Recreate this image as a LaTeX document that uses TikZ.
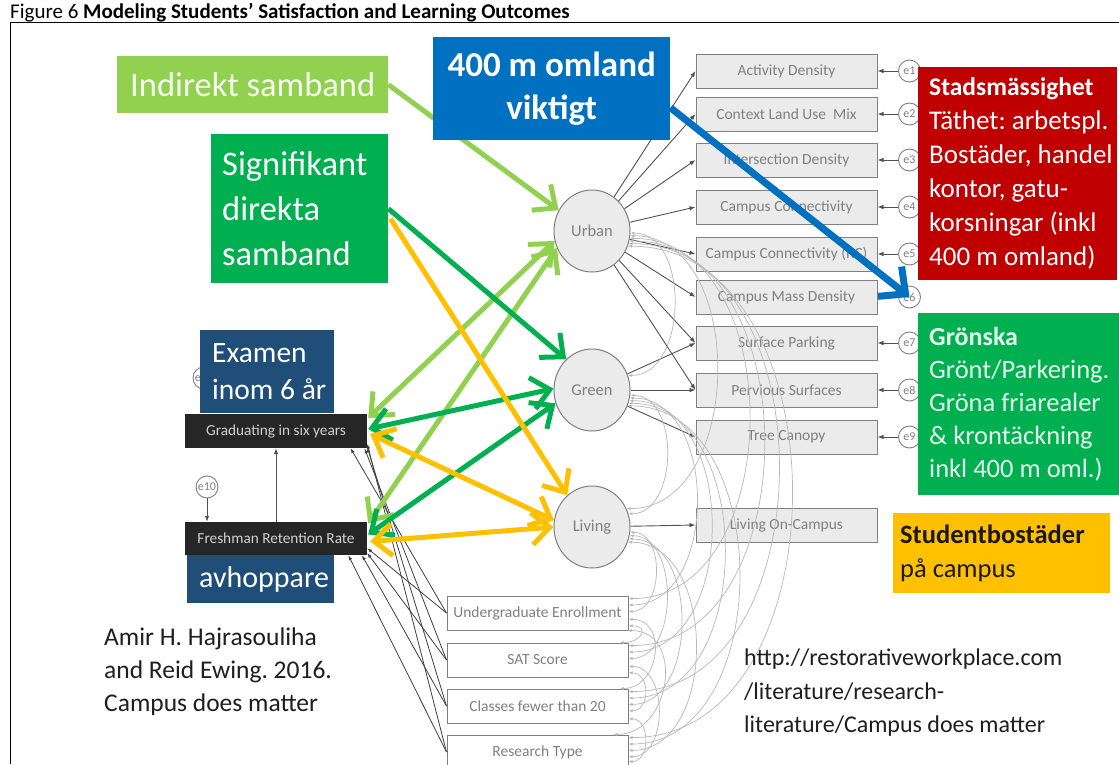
\documentclass[tikz,border=0pt]{standalone}
\usepackage{fontspec}
\setmainfont{Carlito}
\usetikzlibrary{arrows.meta,calc,shapes.geometric}

\definecolor{lgreen}{HTML}{92D050}
\definecolor{dgreen}{HTML}{00B050}
\definecolor{ayellow}{HTML}{FFC000}
\definecolor{ablue}{HTML}{0070C0}
\definecolor{navy}{HTML}{1F4E79}
\definecolor{ared}{HTML}{C00000}
\definecolor{boxfill}{HTML}{EBEBEB}
\definecolor{boxline}{HTML}{7F7F7F}
\definecolor{nodetext}{HTML}{808080}
\definecolor{darkbox}{HTML}{262626}

\tikzset{
  obs/.style={draw=boxline, fill=boxfill, line width=1pt, minimum width=181pt,
    minimum height=34pt, inner sep=0pt, text=nodetext, font=\fontsize{15.5}{17}\selectfont},
  ctrl/.style={obs, fill=white},
  lat/.style={ellipse, draw=boxline, fill=boxfill, line width=1pt, minimum width=76pt,
    minimum height=82pt, inner sep=0pt, text=nodetext, font=\fontsize{16.5}{18}\selectfont},
  err/.style={circle, draw=boxline, fill=white, line width=0.9pt, minimum size=22pt,
    inner sep=0pt, text=nodetext, font=\fontsize{12}{13}\selectfont},
  outc/.style={fill=darkbox, minimum width=182pt, minimum height=34pt, inner sep=0pt,
    text=black!18, font=\fontsize{15.3}{17}\selectfont},
  regpath/.style={draw=black!68, line width=0.9pt, -{Latex[length=6pt,width=4.5pt]}},
  ctrlpath/.style={draw=black!75, line width=0.8pt, -{Latex[length=5pt,width=3.5pt]}},
  cov/.style={draw=black!28, line width=0.7pt,
    {Latex[length=4pt,width=3pt]}-{Latex[length=4pt,width=3pt]}},
  fat/.style={line width=5pt, -{Straight Barb[length=18pt,width=32pt]}},
  fatboth/.style={line width=5pt,
    {Straight Barb[length=18pt,width=32pt]}-{Straight Barb[length=18pt,width=32pt]}},
  labelbox/.style={inner sep=0pt, anchor=north west, align=flush left},
}
\newcommand{\headline}[2]{{\fontsize{#1}{34}\selectfont\bfseries #2}}

\begin{document}
\frenchspacing
\begin{tikzpicture}[x=1pt,y=-1pt]
\useasboundingbox (0,0) rectangle (1119,764);
\fill[white] (0,0) rectangle (1119,764);

% frame and heading
\draw[line width=1pt] (10,764) -- (10,22) -- (1119,22);
\node[anchor=base west, inner sep=0pt, font=\fontsize{21}{23}\selectfont] (title) at (10,18)
  {Figure 6 \textbf{Modeling Students’ Satisfaction and Learning Outcomes}};

% measured variables
\node[obs] (ad) at (786.5,71)  {Activity Density};
\node[obs] (lu) at (786.5,114) {Context Land Use\ \ Mix};
\node[obs] (id) at (786.5,160) {Intersection Density};
\node[obs] (cc) at (786.5,207) {Campus Connectivity};
\node[obs] (rc) at (786.5,254) {Campus Connectivity (RC)};
\node[obs] (md) at (786.5,297) {Campus Mass Density};
\node[obs] (sp) at (786.5,343) {Surface Parking};
\node[obs] (ps) at (786.5,390) {Pervious Surfaces};
\node[obs] (tc) at (786.5,437) {Tree Canopy};
\node[obs] (lo) at (786.5,525) {Living On-Campus};

% latent constructs
\node[lat] (urban)  at (592,231) {Urban};
\node[lat] (green)  at (592,390) {Green};
\node[lat] (living) at (592,527) {Living};

% controls
\node[ctrl] (enr) at (537.5,613) {Undergraduate Enrollment};
\node[ctrl] (sat) at (537.5,660) {SAT Score};
\node[ctrl] (cls) at (537.5,706) {Classes fewer than 20};
\node[ctrl] (rt)  at (537.5,752) {Research Type};

% outcomes
\node[outc] (grad)  at (276,431)   {Graduating in six years};
\node[outc, minimum height=33pt] (fresh) at (276,538.5) {Freshman Retention Rate};

% error terms
\foreach \n/\b in {1/ad,2/lu,3/id,4/cc,5/rc,6/md,7/sp,8/ps,9/tc} {
  \node[err] (e\n) at ($(\b.east)+(32,0)$) {e\n};
  \draw[regpath] (e\n) -- (\b.east);
}
\node[err] (e10) at (207,487) {e10};
\draw[regpath] (e10) -- (e10 |- fresh.north);
\node[err] (e11) at (204,378) {e11};
\draw[regpath] (e11) -- (e11 |- grad.north);
\draw[regpath] (fresh.north) -- (grad.south);

% structural paths
\foreach \b in {ad,lu,id,cc,rc,md,sp,ps} \draw[regpath] (urban) -- (\b.west);
\foreach \b in {sp,ps,tc} \draw[regpath] (green) -- (\b.west);
\draw[regpath] (living) -- (lo.west);

% controls to outcomes
\draw[ctrlpath] (enr.west) -- (grad.-13);
\draw[ctrlpath] (sat.west) -- (grad.-11.5);
\draw[ctrlpath] (cls.west) -- (grad.-10);
\draw[ctrlpath] (rt.west)  -- (grad.-8);
\draw[ctrlpath] (enr.west) -- (fresh.-6);
\draw[ctrlpath] (sat.west) -- (fresh.-9);
\draw[ctrlpath] (cls.west) -- (fresh.-11);
\draw[ctrlpath] (rt.west)  -- (fresh.-13);

% covariances
\foreach \a/\b/\d in {urban.-3/green.22/60, urban.-7/living.28/118, urban.-11/enr.9/160,
  urban.-15/sat.9/180, urban.-19/cls.9/200, urban.-23/rt.9/218,
  green.-8/living.20/50, green.-12/enr.5/90, green.-16/sat.5/110, green.-20/cls.5/128,
  green.-24/rt.5/148, living.-8/enr.1/35, living.-13/sat.1/50, living.-18/cls.1/70,
  living.-23/rt.1/90, enr.-8/sat.12/22, enr.-4/cls.12/40, enr.-11/rt.13/58,
  sat.-8/cls.-3/22, sat.-4/rt.-3/40, cls.-8/rt.-6/22} {
  \draw[cov] (\a) .. controls +(\d,0) and +(\d,0) .. (\b);
}

% annotation boxes (left)
\node[labelbox, align=center, fill=lgreen, minimum width=271pt, minimum height=57pt,
  text=white!92!lgreen, font=\fontsize{34.5}{40}\selectfont] (ind) at (117,56)
  {Indirekt samband};
\node[labelbox, fill=dgreen, minimum width=177pt, minimum height=149pt, text width=177pt,
  text=white, font=\fontsize{34.5}{45}\selectfont]
  (sig) at (211,134) {\hspace*{11pt}Signifikant\\\hspace*{11pt}direkta\\\hspace*{11pt}samband};

% highlighted relations
\draw[fat, lgreen] (ind.east) -- (urban.148);
\draw[fatboth, lgreen] ($(grad.east)+(1,-13)$) -- (urban.195);
\draw[fatboth, lgreen] ($(fresh.east)+(1,-15)$) -- (urban.206);
\draw[fat, dgreen] (sig.east) -- (green.130);
\draw[fatboth, dgreen] ($(grad.east)+(1,-2)$) -- (green.178);
\draw[fatboth, dgreen] ($(fresh.east)+(1,-4)$) -- (green.200);
\draw[fat, ayellow] ($(sig.east)+(2,10)$) -- (living.128);
\draw[fatboth, ayellow] ($(grad.east)+(3,3)$) -- (living.170);
\draw[fatboth, ayellow] ($(fresh.east)+(3,3)$) -- (living.180);

% annotation boxes
\node[labelbox, fill=ablue, minimum width=237pt, minimum height=103pt, align=center,
  text=white, font=\bfseries\fontsize{35}{43}\selectfont] (omland) at (433,37)
  {400~m~omland\\viktigt};
\node[labelbox, fill=navy, minimum width=134pt, minimum height=83pt, text width=134pt,
  text=white, font=\fontsize{29.5}{37}\selectfont] (examen) at (200,330)
  {\hspace*{12pt}Examen\\\hspace*{12pt}inom~6~år};
\node[labelbox, fill=navy, minimum width=147pt, minimum height=48pt, text width=147pt,
  text=white, font=\fontsize{30}{36}\selectfont] (avh) at (187,555)
  {\hspace*{12pt}avhoppare};
\node[labelbox, fill=ared, minimum width=199pt, minimum height=213pt, text width=199pt,
  text=white, font=\fontsize{27}{34}\selectfont] (stad) at (918,67)
  {\hspace*{11pt}\headline{25.5}{Stadsmässighet}\\\hspace*{11pt}Täthet:~arbetspl.\\\hspace*{11pt}Bostäder,~handel\\\hspace*{11pt}kontor,~gatu-\\\hspace*{11pt}korsningar~(inkl\\\hspace*{11pt}400~m~omland)};
\node[labelbox, fill=dgreen, minimum width=201pt, minimum height=182pt, text width=201pt,
  text=white!90!dgreen, font=\fontsize{26.5}{33}\selectfont] (gron) at (918,313)
  {\hspace*{11pt}\headline{26}{Grönska}\\\hspace*{11pt}Grönt/Parkering.\\\hspace*{11pt}Gröna~friarealer\\\hspace*{11pt}\&~krontäckning\\\hspace*{11pt}inkl~400~m~oml.)};
\node[labelbox, fill=ayellow, minimum width=217pt, minimum height=80pt, text width=217pt,
  text=black!90, font=\fontsize{26.5}{34}\selectfont] (stud) at (893,513)
  {\hspace*{7pt}\textbf{Studentbostäder}\\\hspace*{7pt}på~campus};

\draw[line width=7pt, ablue, -{Straight Barb[length=20pt,width=38pt]}]
  ($(omland.east)+(0,19)$) -- (e6.center);

% sources
\node[anchor=north west, inner sep=0pt, align=left, text=black!88,
  font=\fontsize{25.5}{33}\selectfont] (cite) at (104,628)
  {Amir H. Hajrasouliha\\and Reid Ewing. 2016.\\Campus does matter};
\node[anchor=north west, inner sep=0pt, align=left, text=black!88,
  font=\fontsize{24}{33.5}\selectfont] (url) at (744,649)
  {http://restorativeworkplace.com\\/literature/research-\\literature/Campus does matter};
\end{tikzpicture}
\end{document}
